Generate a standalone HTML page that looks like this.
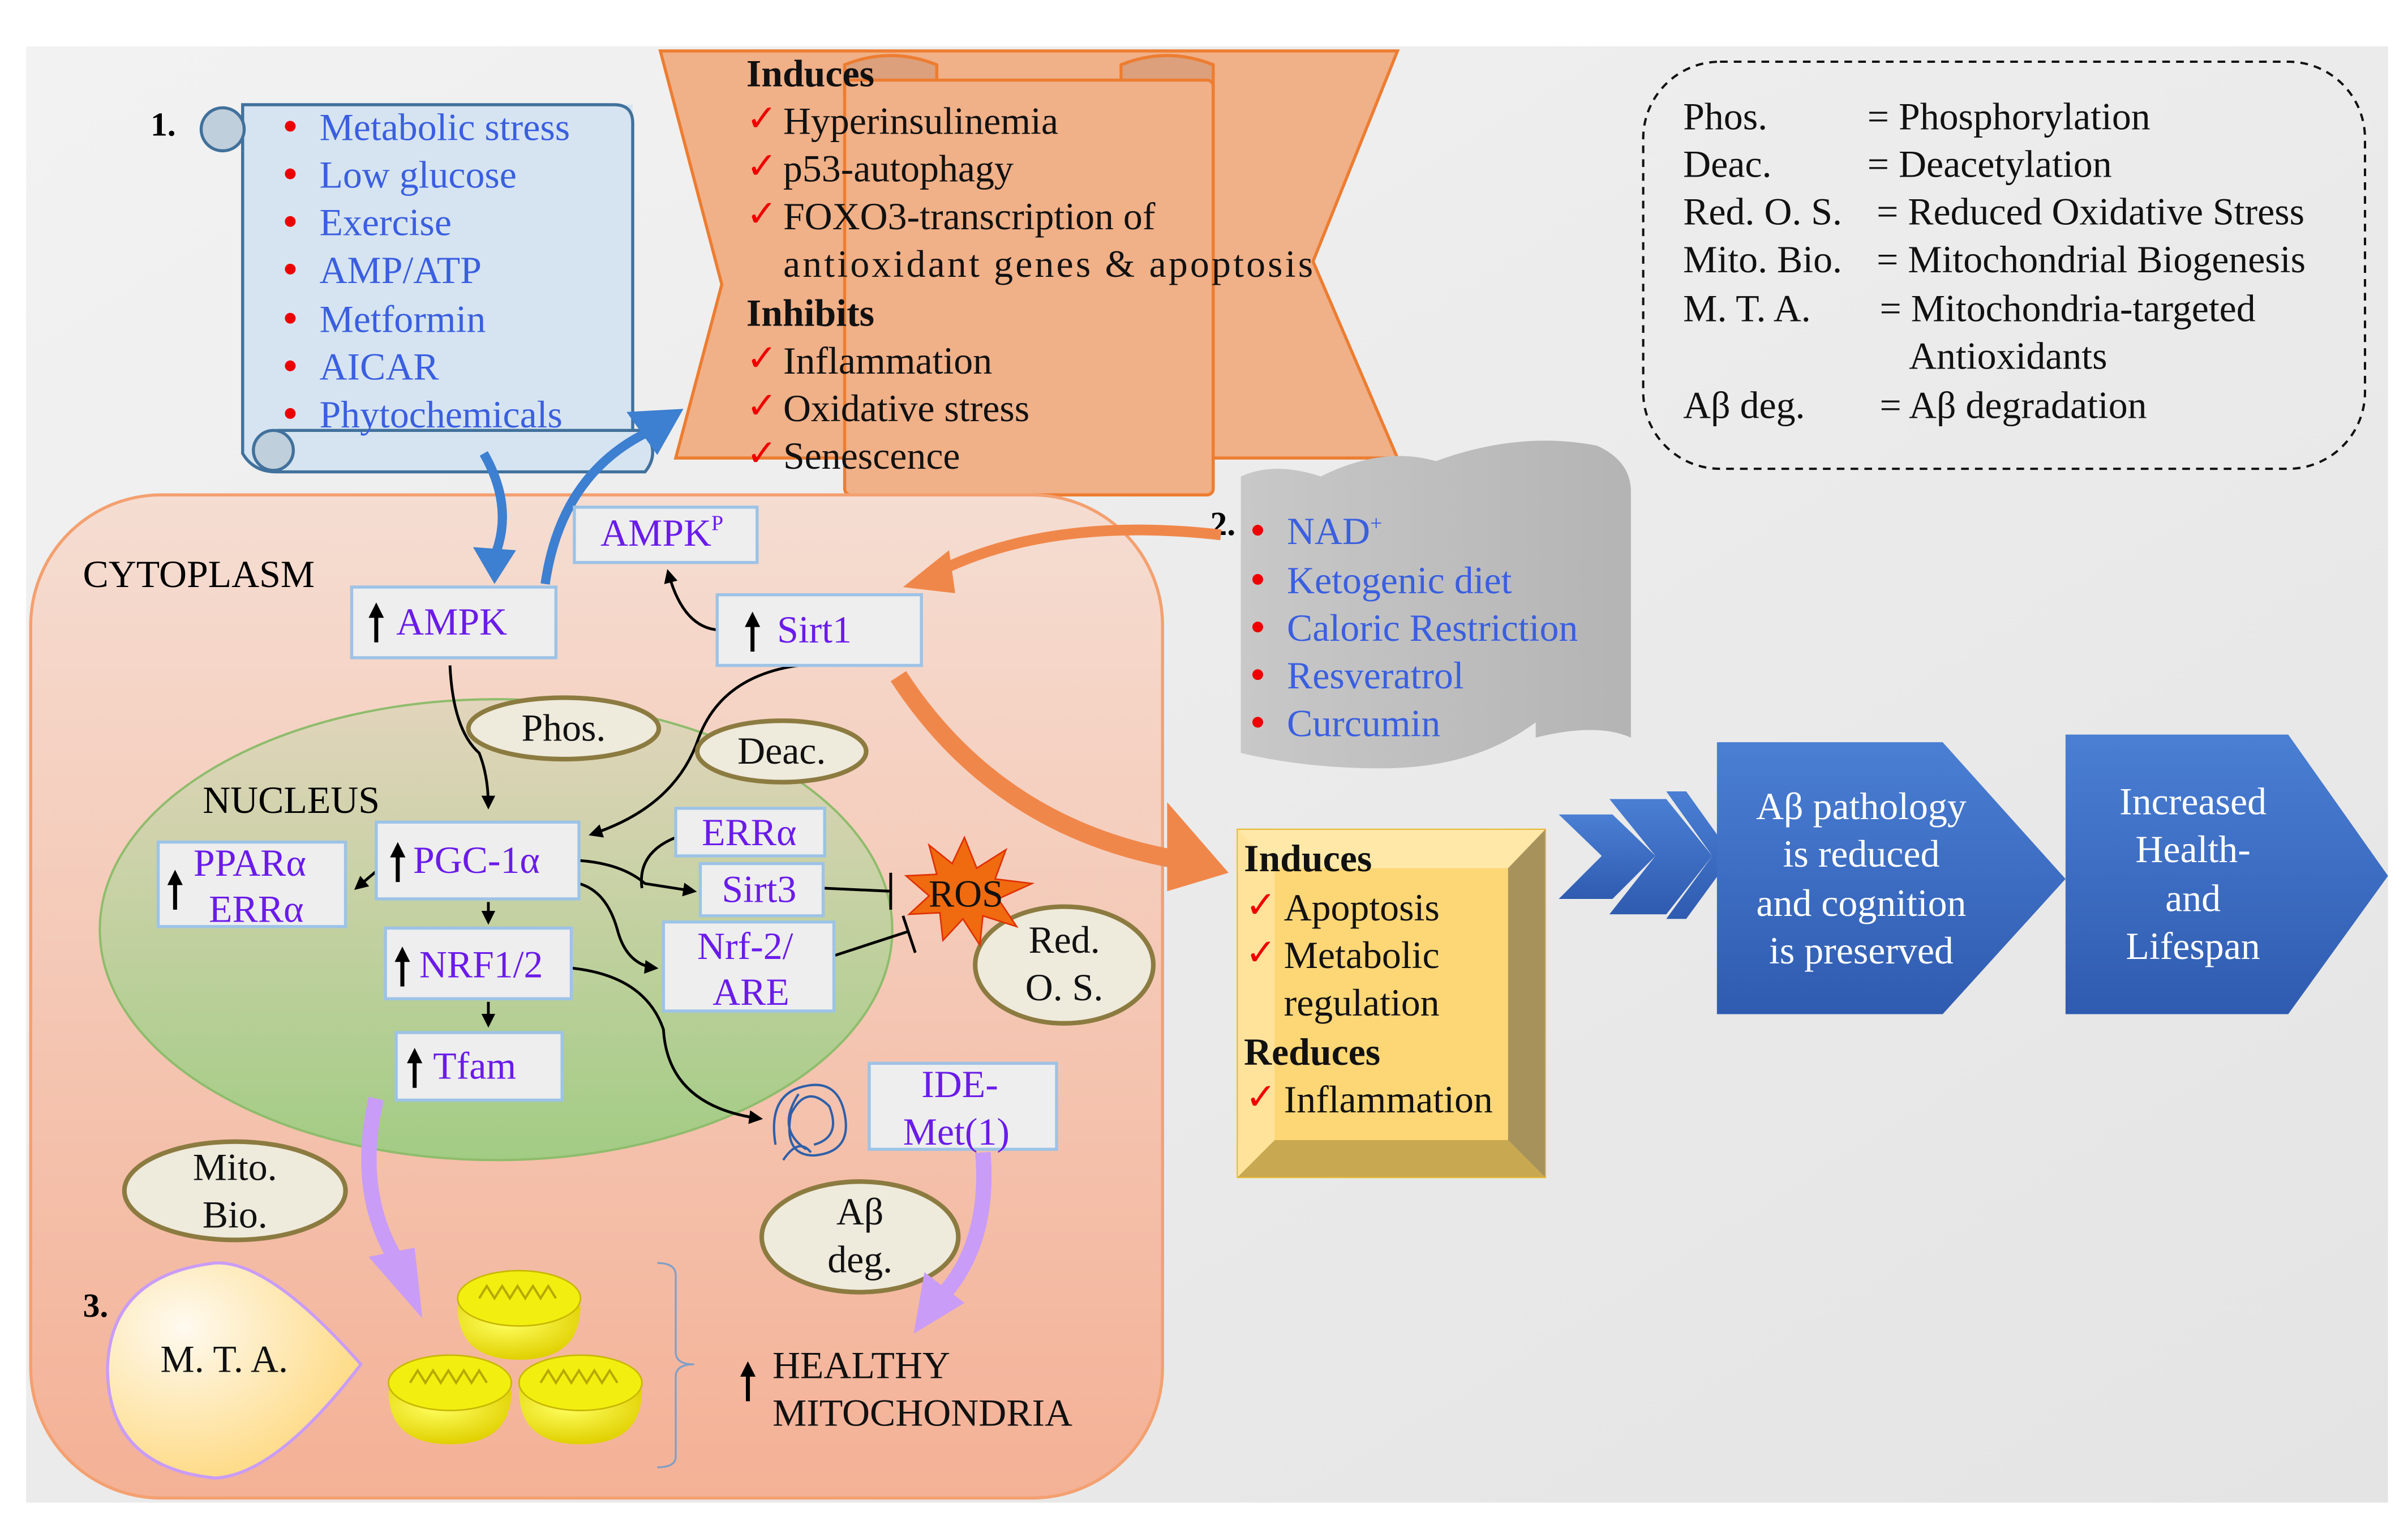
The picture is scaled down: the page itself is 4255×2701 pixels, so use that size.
<!DOCTYPE html>
<html><head><meta charset="utf-8"><style>
html,body{margin:0;padding:0;background:#fff}
svg{display:block}
svg text{font-family:"Liberation Serif","DejaVu Serif",serif}
</style></head><body>
<svg width="4255" height="2701" viewBox="0 0 1568 995" xmlns="http://www.w3.org/2000/svg" font-family="Liberation Serif, DejaVu Serif, serif">
<defs>
<linearGradient id="bg" x1="0" y1="0" x2="1" y2="1"><stop offset="0" stop-color="#f2f2f2"/><stop offset="1" stop-color="#e4e4e4"/></linearGradient>
<linearGradient id="cyto" x1="0" y1="0" x2="0" y2="1"><stop offset="0" stop-color="#f5ddd2"/><stop offset="1" stop-color="#f4b196"/></linearGradient>
<linearGradient id="nuc" x1="0" y1="0" x2="0" y2="1"><stop offset="0" stop-color="#e2d5bc"/><stop offset="1" stop-color="#a2cc84"/></linearGradient>
<linearGradient id="gray" x1="0" y1="0" x2="1" y2="0"><stop offset="0" stop-color="#c8c8c8"/><stop offset="1" stop-color="#b4b4b4"/></linearGradient>
<linearGradient id="blue" x1="0" y1="0" x2="0" y2="1"><stop offset="0" stop-color="#4a7fd4"/><stop offset="1" stop-color="#2f5bb0"/></linearGradient>
<radialGradient id="mta" cx="0.3" cy="0.3" r="0.8"><stop offset="0" stop-color="#fffaf0"/><stop offset="1" stop-color="#fdd77a"/></radialGradient>
<radialGradient id="mito" cx="0.4" cy="0.3" r="0.7"><stop offset="0" stop-color="#ffff60"/><stop offset="1" stop-color="#e0d000"/></radialGradient>
<marker id="ah" viewBox="0 0 10 10" refX="8" refY="5" markerWidth="5" markerHeight="5" orient="auto"><path d="M0,0L10,5L0,10z" fill="#000"/></marker>
<g id="up"><rect x="-1.3" y="-16" width="2.6" height="20" fill="#000"/><polygon points="-5,-12 0,-22 5,-12" fill="#000"/></g>
</defs>
<rect x="17" y="30" width="1538" height="948" fill="url(#bg)"/>

<!-- orange banner -->
<polygon points="430,33 910,33 855,170 910,298 440,298 470,185" fill="#f0b088" stroke="#ed7d31" stroke-width="2"/>
<path d="M550,60 L550,42 Q580,30 610,42 L610,60" fill="#dca07c" stroke="#ed7d31" stroke-width="2"/>
<path d="M730,60 L730,42 Q760,30 790,42 L790,60" fill="#dca07c" stroke="#ed7d31" stroke-width="2"/>
<rect x="550" y="52" width="240" height="270" fill="#f0b088" stroke="#ed7d31" stroke-width="2" rx="4"/>
<g font-size="25" fill="#111">
<text x="486" y="56" font-weight="bold">Induces</text>
<text x="510" y="87">Hyperinsulinemia</text>
<text x="510" y="118">p53-autophagy</text>
<text x="510" y="149">FOXO3-transcription of</text>
<text x="510" y="180" textLength="345">antioxidant genes &amp; apoptosis</text>
<text x="486" y="212" font-weight="bold">Inhibits</text>
<text x="510" y="243">Inflammation</text>
<text x="510" y="274">Oxidative stress</text>
<text x="510" y="305">Senescence</text>
</g>
<g font-size="24" fill="#e00">
<text x="486" y="85">✓</text><text x="486" y="116">✓</text><text x="486" y="147">✓</text>
<text x="486" y="241">✓</text><text x="486" y="272">✓</text><text x="486" y="303">✓</text>
</g>

<!-- blue scroll -->
<rect x="158" y="68" width="254" height="212" fill="#d6e4f1"/>
<path d="M158,98 L158,68 L400,68 Q412,68 412,80 L412,280" fill="none" stroke="#41719c" stroke-width="2"/>
<circle cx="145" cy="84" r="14" fill="#c0cfdc" stroke="#41719c" stroke-width="2"/>
<path d="M158,98 L158,295 Q165,307 180,307 L420,307 Q430,295 420,280 L180,280" fill="#d6e4f1" stroke="#41719c" stroke-width="2"/>
<circle cx="178" cy="293" r="13" fill="#c0cfdc" stroke="#41719c" stroke-width="2"/>
<text x="98" y="88" font-size="22" font-weight="bold">1.</text>
<g font-size="25" fill="#3a5fe0">
<text x="208" y="91">Metabolic stress</text><text x="208" y="122">Low glucose</text><text x="208" y="153">Exercise</text>
<text x="208" y="184">AMP/ATP</text><text x="208" y="216">Metformin</text><text x="208" y="247">AICAR</text><text x="208" y="278">Phytochemicals</text>
</g>
<g fill="#e00"><circle cx="189" cy="82" r="3.5"/><circle cx="189" cy="113" r="3.5"/><circle cx="189" cy="144" r="3.5"/><circle cx="189" cy="175" r="3.5"/><circle cx="189" cy="207" r="3.5"/><circle cx="189" cy="238" r="3.5"/><circle cx="189" cy="269" r="3.5"/></g>

<!-- legend -->
<rect x="1070" y="40" width="470" height="265" rx="50" fill="none" stroke="#111" stroke-width="1.5" stroke-dasharray="5,4"/>
<g font-size="25" fill="#111">
<text x="1096" y="84">Phos.</text><text x="1216" y="84">= Phosphorylation</text>
<text x="1096" y="115">Deac.</text><text x="1216" y="115">= Deacetylation</text>
<text x="1096" y="146">Red. O. S.</text><text x="1222" y="146">= Reduced Oxidative Stress</text>
<text x="1096" y="177">Mito. Bio.</text><text x="1222" y="177">= Mitochondrial Biogenesis</text>
<text x="1096" y="209">M. T. A.</text><text x="1224" y="209">= Mitochondria-targeted</text>
<text x="1243" y="240">Antioxidants</text>
<text x="1096" y="272">Aβ deg.</text><text x="1224" y="272">= Aβ degradation</text>
</g>

<!-- gray scroll -->
<path d="M808,310 Q830,300 860,310 Q900,290 935,300 Q990,280 1040,290 Q1062,300 1062,320 L1062,480 Q1040,470 1000,480 L1000,470 Q960,500 900,500 Q850,500 808,490 Z" fill="url(#gray)"/>
<text x="788" y="348" font-size="22" font-weight="bold">2.</text>
<g font-size="25" fill="#3a5fe0">
<text x="838" y="354">NAD<tspan font-size="14" dy="-9">+</tspan></text>
<text x="838" y="386">Ketogenic diet</text><text x="838" y="417">Caloric Restriction</text><text x="838" y="448">Resveratrol</text><text x="838" y="479">Curcumin</text>
</g>
<g fill="#e00"><circle cx="819" cy="345" r="3.5"/><circle cx="819" cy="377" r="3.5"/><circle cx="819" cy="408" r="3.5"/><circle cx="819" cy="439" r="3.5"/><circle cx="819" cy="470" r="3.5"/></g>

<!-- cytoplasm -->
<rect x="20" y="322" width="737" height="653" rx="85" fill="url(#cyto)" stroke="#f4a070" stroke-width="2"/>
<ellipse cx="323" cy="605" rx="258" ry="150" fill="url(#nuc)" stroke="#8fbc6c" stroke-width="1.5"/>
<text x="54" y="382" font-size="25">CYTOPLASM</text>
<text x="132" y="529" font-size="25">NUCLEUS</text>

<!-- orange arrows -->
<path d="M795,348 Q680,335 605,375" fill="none" stroke="#f0874a" stroke-width="7"/>
<polygon points="588,382 618,358 622,386" fill="#f0874a"/>
<path d="M585,440 Q650,540 770,560" fill="none" stroke="#f0874a" stroke-width="12"/>
<polygon points="760,522 800,568 760,580" fill="#f0874a"/>

<!-- blue arrows -->
<path d="M315,295 Q335,330 322,362" fill="none" stroke="#3d7fd0" stroke-width="6"/>
<polygon points="308,356 322,380 336,358" fill="#3d7fd0"/>
<path d="M355,380 Q365,310 420,282" fill="none" stroke="#3d7fd0" stroke-width="6"/>
<polygon points="408,268 445,266 428,296" fill="#3d7fd0"/>

<!-- connectors -->
<g fill="none" stroke="#000" stroke-width="1.8">
<path d="M293,433 Q295,475 312,490 Q318,505 318,525" marker-end="url(#ah)"/>
<path d="M470,410 Q445,410 435,372" marker-end="url(#ah)"/>
<path d="M520,433 Q470,440 455,480 Q440,525 385,543" marker-end="url(#ah)"/>
<path d="M245,567 L232,578" marker-end="url(#ah)"/>
<path d="M318,587 L318,600" marker-end="url(#ah)"/>
<path d="M318,652 L318,667" marker-end="url(#ah)"/>
<path d="M377,560 Q405,562 420,575 L452,580" marker-end="url(#ah)"/>
<path d="M440,545 Q415,555 418,578"/>
<path d="M377,575 Q395,580 402,605 Q408,628 427,630" marker-end="url(#ah)"/>
<path d="M372,630 Q420,635 432,670 Q435,720 495,728" marker-end="url(#ah)"/>
<path d="M536,578 L580,580 M580,568 L580,592"/>
<path d="M543,622 L592,606 M588,596 L596,620"/>
</g>

<!-- boxes -->
<g fill="#eeeeee" stroke="#9dc3e6" stroke-width="2">
<rect x="229" y="382" width="133" height="46"/><rect x="374" y="330" width="119" height="36"/>
<rect x="467" y="387" width="133" height="46"/><rect x="245" y="535" width="132" height="50"/>
<rect x="103" y="548" width="122" height="55"/><rect x="251" y="604" width="121" height="46"/>
<rect x="258" y="672" width="108" height="44"/><rect x="440" y="526" width="97" height="31"/>
<rect x="456" y="562" width="80" height="34"/><rect x="432" y="600" width="111" height="58"/>
<rect x="566" y="692" width="122" height="56"/>
</g>
<g font-size="25" fill="#6a1bea">
<text x="258" y="413">AMPK</text><text x="391" y="355">AMPK<tspan font-size="14" dy="-10">P</tspan></text>
<text x="506" y="418">Sirt1</text><text x="269" y="568">PGC-1α</text>
<text x="126" y="570">PPARα</text><text x="136" y="600">ERRα</text>
<text x="273" y="636">NRF1/2</text><text x="282" y="702">Tfam</text>
<text x="457" y="550">ERRα</text><text x="470" y="587">Sirt3</text>
<text x="454" y="624">Nrf-2/</text><text x="464" y="654">ARE</text>
<text x="600" y="714">IDE-</text><text x="588" y="745">Met(1)</text>
</g>
<use href="#up" x="245" y="414"/><use href="#up" x="490" y="420"/><use href="#up" x="259" y="570"/>
<use href="#up" x="114" y="588"/><use href="#up" x="262" y="638"/><use href="#up" x="270" y="704"/>
<use href="#up" x="487" y="908"/>

<!-- ellipses -->
<g fill="#eeeadc" stroke="#8c7b40" stroke-width="3">
<ellipse cx="367" cy="474" rx="62" ry="20"/><ellipse cx="509" cy="489" rx="55" ry="20"/>
<ellipse cx="693" cy="628" rx="58" ry="38"/><ellipse cx="153" cy="775" rx="72" ry="32"/>
<ellipse cx="560" cy="805" rx="64" ry="36"/>
</g>
<g font-size="25" fill="#111" text-anchor="middle">
<text x="367" y="482">Phos.</text><text x="509" y="497">Deac.</text>
<text x="693" y="620">Red.</text><text x="693" y="651">O. S.</text>
<text x="153" y="768">Mito.</text><text x="153" y="799">Bio.</text>
<text x="560" y="797">Aβ</text><text x="560" y="828">deg.</text>
</g>

<!-- ROS -->
<polygon points="628,545 636,565 655,553 648,572 672,575 650,585 662,603 640,596 638,615 627,598 614,612 612,594 592,595 605,583 590,570 610,569 605,550 620,562" fill="#f06a10" stroke="#e03000" stroke-width="1"/>
<text x="629" y="590" font-size="25" text-anchor="middle" fill="#111">ROS</text>

<!-- tangled IDE -->
<g fill="none" stroke="#2e5fa8" stroke-width="1.5">
<path d="M505,745 Q500,715 520,708 Q545,700 550,725 Q555,750 530,752 Q510,752 515,725 Q525,705 540,720 Q548,740 530,745 M510,755 Q520,740 528,750 M520,712 Q505,735 525,748"/>
</g>

<!-- purple arrows -->
<path d="M245,715 Q230,780 262,826" fill="none" stroke="#c99cf7" stroke-width="10"/>
<polygon points="240,818 275,858 270,812" fill="#c99cf7"/>
<path d="M640,750 Q645,810 612,845" fill="none" stroke="#c99cf7" stroke-width="10"/>
<polygon points="595,868 602,828 628,848" fill="#c99cf7"/>

<!-- MTA -->
<path d="M140,822 Q175,820 235,888 Q180,960 140,962 Q70,955 70,890 Q72,830 140,822 Z" fill="url(#mta)" stroke="#c99cf7" stroke-width="2"/>
<text x="54" y="857" font-size="22" font-weight="bold">3.</text>
<text x="146" y="893" font-size="25" text-anchor="middle" fill="#111">M. T. A.</text>

<!-- mitochondria -->
<g>
<path d="M298,850 Q298,885 338,885 Q378,885 378,850 Z" fill="url(#mito)"/><ellipse cx="338" cy="845" rx="40" ry="18" fill="#f2ef10" stroke="#c8b800"/>
<path d="M253,905 Q253,940 293,940 Q333,940 333,905 Z" fill="url(#mito)"/><ellipse cx="293" cy="900" rx="40" ry="18" fill="#f2ef10" stroke="#c8b800"/>
<path d="M338,905 Q338,940 378,940 Q418,940 418,905 Z" fill="url(#mito)"/><ellipse cx="378" cy="900" rx="40" ry="18" fill="#f2ef10" stroke="#c8b800"/>
<path d="M312,845 l5,-8 l5,8 l5,-8 l5,8 l5,-8 l5,8 l5,-8 l5,8 l5,-8 l5,8 M267,900 l5,-8 l5,8 l5,-8 l5,8 l5,-8 l5,8 l5,-8 l5,8 l5,-8 l5,8 M352,900 l5,-8 l5,8 l5,-8 l5,8 l5,-8 l5,8 l5,-8 l5,8 l5,-8 l5,8" fill="none" stroke="#b8a800" stroke-width="1.5"/>
</g>
<path d="M428,822 Q440,822 440,830 L440,880 Q440,888 452,888 Q440,888 440,896 L440,948 Q440,955 428,955" fill="none" stroke="#7f9fc8" stroke-width="1.2"/>
<g font-size="25" fill="#111"><text x="503" y="897">HEALTHY</text><text x="503" y="928">MITOCHONDRIA</text></g>

<!-- yellow bevel box -->
<rect x="806" y="540" width="200" height="226" fill="#fdd676" stroke="#e8b830" stroke-width="1.5"/>
<polygon points="806,540 1006,540 982,565 830,565" fill="#ffe8a8"/>
<polygon points="1006,540 1006,766 982,742 982,565" fill="#a8925c"/>
<polygon points="806,766 1006,766 982,742 830,742" fill="#c8a850"/>
<polygon points="806,540 830,565 830,742 806,766" fill="#ffe39a"/>
<g font-size="25" fill="#111">
<text x="810" y="567" font-weight="bold">Induces</text>
<text x="836" y="599">Apoptosis</text><text x="836" y="630">Metabolic</text><text x="836" y="661">regulation</text>
<text x="810" y="693" font-weight="bold">Reduces</text><text x="836" y="724">Inflammation</text>
</g>
<g font-size="24" fill="#e00"><text x="811" y="597">✓</text><text x="811" y="628">✓</text><text x="811" y="722">✓</text></g>

<!-- chevrons -->
<g fill="url(#blue)">
<polygon points="1015,530 1050,530 1078,557 1050,585 1015,585 1043,557"/>
<polygon points="1048,520 1085,520 1115,557 1085,595 1048,595 1078,557"/>
<polygon points="1085,515 1098,515 1128,557 1098,598 1085,598 1115,557"/>
<polygon points="1118,483 1265,483 1345,572 1265,660 1118,660"/>
<polygon points="1345,478 1490,478 1555,570 1490,660 1345,660"/>
</g>
<g font-size="25" fill="#fff" text-anchor="middle">
<text x="1212" y="533">Aβ pathology</text><text x="1212" y="564">is reduced</text><text x="1212" y="596">and cognition</text><text x="1212" y="627">is preserved</text>
<text x="1428" y="530">Increased</text><text x="1428" y="561">Health-</text><text x="1428" y="593">and</text><text x="1428" y="624">Lifespan</text>
</g>
</svg>
</body></html>
